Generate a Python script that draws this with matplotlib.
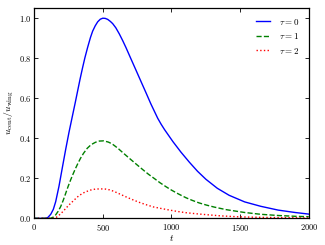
import matplotlib
matplotlib.use("Agg")
import matplotlib.pyplot as plt
from matplotlib.ticker import FuncFormatter

plt.rcParams['mathtext.fontset'] = 'cm'
plt.rcParams['font.family'] = ['DejaVu Serif']

t_blue = [0, 85, 100, 121, 140, 157, 181, 206, 230, 254, 280, 300, 317, 335, 353,
          370, 390, 410, 426, 445, 463, 482, 500, 518, 536, 555, 572, 595, 620, 645,
          669, 705, 742, 780, 815, 850, 900, 925, 950, 1011, 1070, 1131, 1190, 1251,
          1334, 1420, 1533, 1650, 1777, 1900, 2000]
v_blue = [0, 0, 0.004, 0.02, 0.045, 0.083, 0.16, 0.255, 0.345, 0.43, 0.515, 0.58,
          0.637, 0.697, 0.753, 0.803, 0.855, 0.903, 0.935, 0.962, 0.982, 0.995, 1.0,
          0.999, 0.994, 0.984, 0.973, 0.952, 0.922, 0.888, 0.853, 0.797, 0.74, 0.681,
          0.627, 0.572, 0.5, 0.47, 0.443, 0.383, 0.33, 0.28, 0.235, 0.195, 0.15,
          0.115, 0.082, 0.06, 0.041, 0.029, 0.021]

t_green = [0, 120, 140, 157, 175, 193, 212, 230, 248, 266, 284, 302, 320, 338, 360,
           387, 415, 447, 475, 507, 540, 568, 610, 651, 700, 748, 790, 831, 875, 916,
           960, 1000, 1050, 1105, 1150, 1201, 1255, 1312, 1400, 1533, 1650, 1777,
           1900, 2000]
v_green = [0, 0, 0.006, 0.017, 0.035, 0.058, 0.09, 0.125, 0.16, 0.192, 0.222, 0.25,
           0.276, 0.3, 0.325, 0.35, 0.368, 0.38, 0.386, 0.387, 0.381, 0.372, 0.35,
           0.325, 0.296, 0.268, 0.244, 0.221, 0.199, 0.178, 0.158, 0.141, 0.122,
           0.103, 0.09, 0.077, 0.066, 0.056, 0.043, 0.029, 0.02, 0.014, 0.01, 0.008]

t_red = [0, 140, 160, 193, 218, 242, 266, 290, 314, 338, 370, 411, 445, 483, 520,
         550, 580, 628, 676, 724, 772, 820, 867, 925, 987, 1045, 1105, 1190, 1273,
         1363, 1500, 1700, 2000]
v_red = [0, 0, 0.004, 0.022, 0.04, 0.058, 0.075, 0.09, 0.106, 0.118, 0.131, 0.141,
         0.146, 0.147, 0.146, 0.142, 0.135, 0.12, 0.105, 0.091, 0.078, 0.067, 0.057,
         0.049, 0.041, 0.034, 0.028, 0.022, 0.017, 0.012, 0.007, 0.004, 0.002]

labels = [r'$\tau = 0$', r'$\tau = 1$', r'$\tau = 2$']
xticks = [0, 500, 1000, 1500, 2000]
yticks = [0.0, 0.2, 0.4, 0.6, 0.8, 1.0]

fig = plt.figure(figsize=(3.25, 2.45), dpi=100)
ax = fig.add_axes([0.105, 0.109, 0.845, 0.860])

ax.plot(t_blue, v_blue, color='b', ls='-', lw=1.0, label=labels[0])
ax.plot(t_green, v_green, color='g', ls='--', lw=1.0, label=labels[1])
ax.plot(t_red, v_red, color='r', ls=':', lw=1.0, label=labels[2])

ax.set_xlim(0, 2000)
ax.set_ylim(0, 1.053)
ax.set_xticks(xticks)
ax.set_yticks(yticks)
ax.xaxis.set_major_formatter(FuncFormatter(lambda v, p: r'$%d$' % v))
ax.yaxis.set_major_formatter(FuncFormatter(lambda v, p: r'$%.1f$' % v))
ax.tick_params(direction='in', top=True, right=True, length=3, width=0.6,
               labelsize=6)
ax.tick_params(axis='x', pad=2.5)
ax.tick_params(axis='y', pad=2)
for s in ax.spines.values():
    s.set_linewidth(0.9)

ax.set_xlabel(r'$t$', fontsize=7, labelpad=0)
ax.set_ylabel(r'$u_{\rm cent}/u_{\rm wing}$', fontsize=7, labelpad=2)

ax.legend(loc='upper right', frameon=False, fontsize=6.5, handlelength=1.6,
          handletextpad=1.0, labelspacing=0.5, borderaxespad=0.6)

fig.savefig('out.png', dpi=100)
